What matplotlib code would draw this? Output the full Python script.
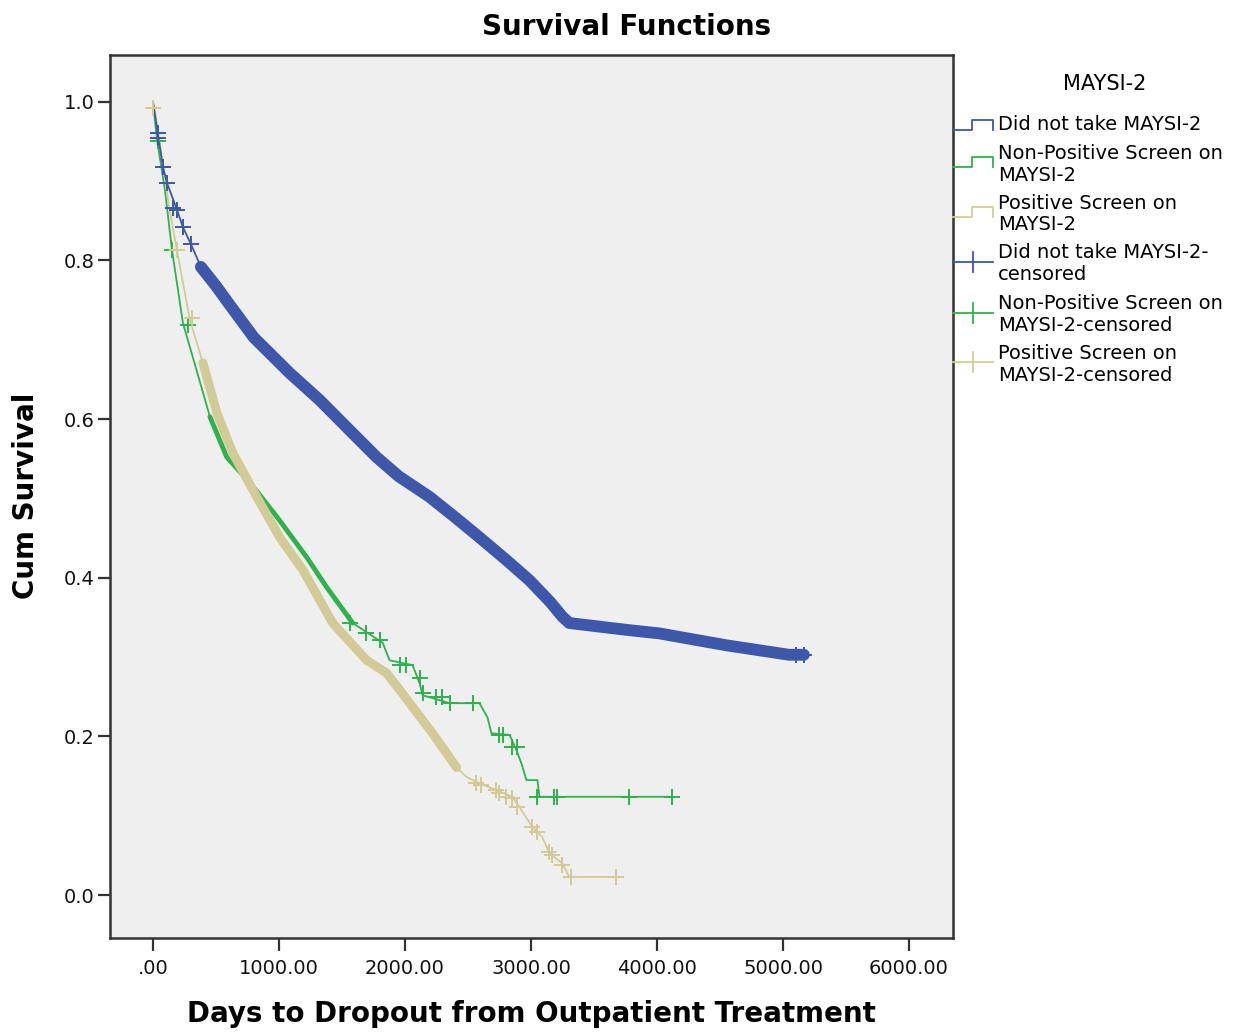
import numpy as np
import matplotlib
matplotlib.use("Agg")
import matplotlib.pyplot as plt
from matplotlib.lines import Line2D

# Kaplan-Meier curves (days, cumulative survival)
blue_t = [0, 40, 79, 111, 190, 238, 300, 380, 500, 600, 800, 1086, 1323, 1561, 1775,
          1950, 2195, 2400, 2591, 2800, 2987, 3150, 3249, 3304, 3780, 4017, 4548, 5048,
          5166]
blue_s = [1.0, 0.958, 0.918, 0.898, 0.864, 0.842, 0.821, 0.792, 0.768, 0.746, 0.703,
          0.658, 0.624, 0.586, 0.552, 0.528, 0.502, 0.476, 0.451, 0.423, 0.397, 0.370,
          0.351, 0.343, 0.334, 0.330, 0.315, 0.303, 0.303]

green_t = [0, 32, 95, 151, 238, 349, 452, 586, 769, 983, 1220, 1379, 1585, 1823, 1878,
           2060, 2116, 2140, 2354, 2591, 2655, 2686, 2830, 2884, 2924, 2964, 3051, 3067,
           4120]
green_s = [1.0, 0.952, 0.889, 0.813, 0.721, 0.660, 0.603, 0.552, 0.520, 0.477, 0.426,
           0.388, 0.343, 0.318, 0.296, 0.290, 0.267, 0.252, 0.242, 0.242, 0.224, 0.204,
           0.202, 0.183, 0.166, 0.145, 0.145, 0.124, 0.124]

tan_t = [0, 15, 71, 119, 190, 293, 396, 507, 634, 824, 1006, 1189, 1426, 1696, 1854,
         1957, 2219, 2409, 2488, 2591, 2853, 2908, 3011, 3090, 3146, 3249, 3304, 3677]
tan_s = [1.0, 0.990, 0.931, 0.876, 0.813, 0.725, 0.671, 0.608, 0.557, 0.502, 0.451,
         0.410, 0.343, 0.296, 0.280, 0.259, 0.204, 0.161, 0.149, 0.141, 0.124, 0.111,
         0.086, 0.073, 0.053, 0.040, 0.023, 0.023]

# censored cases that can be told apart (the rest merge into a band)
blue_cens_t = [40, 40, 79, 111, 158, 190, 238, 300, 5100, 5166]
blue_cens_s = [0.961, 0.955, 0.918, 0.898, 0.866, 0.864, 0.842, 0.821, 0.303, 0.303]
green_cens_t = [40, 151, 277, 1561, 1690, 1799, 1957, 2010, 2116, 2140, 2250, 2290,
                2354, 2536, 2750, 2775, 2853, 2892, 3051, 3185, 3209, 3780, 4120]
green_cens_s = [0.950, 0.813, 0.719, 0.343, 0.331, 0.322, 0.290, 0.290, 0.274, 0.255,
                0.250, 0.250, 0.242, 0.242, 0.202, 0.202, 0.187, 0.187, 0.124, 0.124,
                0.124, 0.124, 0.124]
tan_cens_t = [0, 190, 309, 2567, 2607, 2726, 2750, 2805, 2853, 2892, 3011, 3050, 3146,
              3170, 3249, 3320, 3677]
tan_cens_s = [0.992, 0.813, 0.728, 0.141, 0.139, 0.132, 0.129, 0.124, 0.122, 0.111,
              0.086, 0.080, 0.054, 0.050, 0.038, 0.023, 0.023]

# ranges where the censor marks are so dense they form a thick band
blue_band = (380, 5166)
green_band = (452, 1585)
tan_band = (396, 2409)

xticks = [0, 1000, 2000, 3000, 4000, 5000, 6000]
xtick_labels = ['.00', '1000.00', '2000.00', '3000.00', '4000.00', '5000.00', '6000.00']
yticks = [0.0, 0.2, 0.4, 0.6, 0.8, 1.0]
ytick_labels = ['0.0', '0.2', '0.4', '0.6', '0.8', '1.0']

legend_title = 'MAYSI-2'
legend_labels = ['Did not take MAYSI-2',
                 'Non-Positive Screen on\nMAYSI-2',
                 'Positive Screen on\nMAYSI-2',
                 'Did not take MAYSI-2-\ncensored',
                 'Non-Positive Screen on\nMAYSI-2-censored',
                 'Positive Screen on\nMAYSI-2-censored']

BLUE = '#3d57ab'
GREEN = '#2cb34b'
TAN = '#d3cb95'
W, H = 1252, 1032

fig = plt.figure(figsize=(W / 100, H / 100), dpi=100)
fig.patch.set_facecolor('white')
ax = fig.add_axes([110 / W, 1 - 938 / H, (953 - 110) / W, (938 - 55) / H])
ax.set_facecolor('#efefef')


def band(t, s, lo, hi):
    t = np.array(t, float)
    s = np.array(s, float)
    m = (t >= lo) & (t <= hi)
    return t[m], s[m]


for t, s, rng, lw_band, col in [(green_t, green_s, green_band, 3.5, GREEN),
                                (tan_t, tan_s, tan_band, 6.5, TAN),
                                (blue_t, blue_s, blue_band, 8.5, BLUE)]:
    ax.plot(t, s, color=col, lw=1.3, zorder=3)
    bt, bs = band(t, s, *rng)
    ax.plot(bt, bs, color=col, lw=lw_band, solid_capstyle='round',
            solid_joinstyle='round', zorder=3)

for ct, cs, col in [(green_cens_t, green_cens_s, GREEN),
                    (tan_cens_t, tan_cens_s, TAN),
                    (blue_cens_t, blue_cens_s, BLUE)]:
    ax.plot(ct, cs, '+', color=col, ms=11, mew=1.4, ls='none', zorder=4)

ax.set_xlim(-341, 6349)
ax.set_ylim(-0.054, 1.059)
ax.set_xticks(xticks)
ax.set_xticklabels(xtick_labels)
ax.set_yticks(yticks)
ax.set_yticklabels(ytick_labels)
ax.tick_params(axis='both', direction='out', length=9, width=1.6, color='#333333',
               labelsize=14, labelcolor='#111111')
ax.tick_params(axis='x', pad=6)
ax.tick_params(axis='y', pad=2)
for sp in ax.spines.values():
    sp.set_color('#333333')
    sp.set_linewidth(1.8)

fig.text(627 / W, 1 - 27 / H, 'Survival Functions', ha='center', va='center',
         fontsize=20, fontweight='bold')
fig.text(531 / W, 1 - 1014 / H, 'Days to Dropout from Outpatient Treatment',
         ha='center', va='center', fontsize=20, fontweight='bold')
fig.text(26 / W, 1 - 496 / H, 'Cum Survival', ha='center', va='center',
         rotation=90, fontsize=20, fontweight='bold')


# legend drawn by hand to get the SPSS step icons
def fp(x, y):
    return x / W, 1 - y / H


fig.text(*fp(1105, 84), legend_title, ha='center', va='center', fontsize=15)
text_y = [124, 164.5, 214, 263.5, 314.5, 364.5]
icon_y = [125, 162, 212, 262, 313, 362]
cols = [BLUE, GREEN, TAN, BLUE, GREEN, TAN]
for i, (lab, ty, iy, col) in enumerate(zip(legend_labels, text_y, icon_y, cols)):
    fig.text(*fp(998, ty), lab, ha='left', va='center', fontsize=14,
             linespacing=1.15)
    if i < 3:
        xs = [953, 972, 972, 993, 993]
        ys = [iy + 5, iy + 5, iy - 5, iy - 5, iy + 5]
        pts = [fp(x, y) for x, y in zip(xs, ys)]
        fig.add_artist(Line2D([p[0] for p in pts], [p[1] for p in pts],
                              color=col, lw=1.3, transform=fig.transFigure))
    else:
        a, b = fp(953, iy), fp(993, iy)
        fig.add_artist(Line2D([a[0], b[0]], [a[1], b[1]], color=col, lw=1.3,
                              transform=fig.transFigure))
        c, d = fp(973, iy - 10), fp(973, iy + 10)
        fig.add_artist(Line2D([c[0], d[0]], [c[1], d[1]], color=col, lw=1.3,
                              transform=fig.transFigure))

fig.savefig('out.png', dpi=100)
